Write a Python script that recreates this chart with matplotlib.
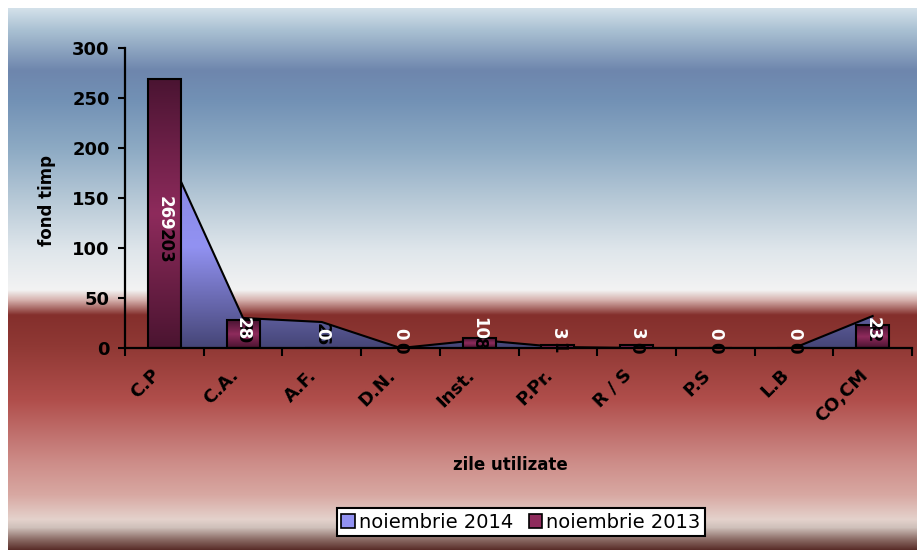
import numpy as np
import matplotlib
matplotlib.use("Agg")
import matplotlib.pyplot as plt
from matplotlib.colors import LinearSegmentedColormap, to_rgb
from matplotlib.patches import Patch
from matplotlib.transforms import ScaledTranslation

categories = ["C.P", "C.A.", "A.F.", "D.N.", "Inst.", "P.Pr.", "R / S", "P.S", "L.B", "CO,CM"]
nov2014 = [203, 30, 26, 0, 8, 1, 0, 0, 0, 32]
nov2013 = [269, 28, 0, 0, 10, 3, 3, 0, 0, 23]
yticks = [0, 50, 100, 150, 200, 250, 300]

plt.rcParams['font.family'] = ['DejaVu Sans']

W, H = 917, 550
fig = plt.figure(figsize=(W / 100, H / 100), dpi=100)
fig.patch.set_facecolor('white')

# ---- background gradient (chart area) ----
bg_stops = [
    (8, '#d3e1ea'), (30, '#a9c0d2'), (70, '#6e86ad'), (100, '#7291b5'),
    (150, '#8eabc4'), (200, '#b7c9d7'), (250, '#dfe6eb'), (290, '#f3f3f3'),
    (300, '#d6b2ae'), (315, '#842f2c'), (345, '#8f3834'), (400, '#b04e4b'),
    (460, '#cc8a86'), (495, '#d8a8a2'), (520, '#e4d2cc'), (528, '#cfc0ba'),
    (540, '#8a6a64'), (550, '#5a2e2a'),
]
ys = np.arange(8, 551)
pos = [p for p, _ in bg_stops]
cols = np.array([to_rgb(c) for _, c in bg_stops])
grad = np.stack([np.interp(ys, pos, cols[:, k]) for k in range(3)], axis=-1)
grad = grad[:, None, :]
bgax = fig.add_axes([8 / W, 0, (W - 8) / W, (H - 8) / H])
bgax.imshow(grad, aspect='auto', extent=[0, 1, 0, 1], interpolation='bilinear')
bgax.set_axis_off()
bgax.set_zorder(-10)

# ---- main axes ----
ax = fig.add_axes([125 / W, (H - 348) / H, 787 / W, 300 / H])
ax.set_facecolor('none')
x = np.arange(len(categories))

# area (noiembrie 2014) with gradient
area_cmap = LinearSegmentedColormap.from_list(
    'area', [(0, '#454576'), (0.5, '#9292f2'), (0.8, '#8a8ae6'), (1.0, '#7676cc')])
poly = ax.fill_between(x, nov2014, 0, facecolor='none', edgecolor='none', zorder=2)
ymax_a = max(nov2014)
g = np.linspace(1, 0, 256)[:, None]
im = ax.imshow(g, cmap=area_cmap, aspect='auto', extent=[x[0], x[-1], 0, ymax_a],
               zorder=2, interpolation='bilinear')
im.set_clip_path(poly.get_paths()[0], transform=ax.transData)
ax.plot(x, nov2014, color='black', lw=1.5, zorder=3)

# bars (noiembrie 2013) with gradient
bar_cmap = LinearSegmentedColormap.from_list(
    'bar', [(0, '#4a1430'), (0.5, '#8e2b5c'), (1.0, '#4a1432')])
bw = 0.42
bars = ax.bar(x, nov2013, width=bw, facecolor='none', edgecolor='black', lw=1.5, zorder=5)
for b, v in zip(bars, nov2013):
    if v <= 0:
        continue
    xb = b.get_x()
    bim = ax.imshow(np.linspace(1, 0, 256)[:, None], cmap=bar_cmap, aspect='auto',
                    extent=[xb, xb + bw, 0, v], zorder=4, interpolation='bilinear')
    bim.set_clip_path(b)
ax.set_xlim(-0.5, len(categories) - 0.5)
ax.set_ylim(0, 300)

# data labels
lab_font = dict(fontsize=12, fontweight='bold', rotation=-90, ha='center')
for xi, v in zip(x, nov2014):
    ax.text(xi, v / 2, str(v), color='black', va='center', zorder=6, **lab_font)
for xi, v in zip(x, nov2013):
    if v > 60:
        ax.text(xi, v / 2, str(v), color='white', va='center', zorder=7, **lab_font)
    else:
        ax.text(xi, 8, str(v), color='white', va='bottom', zorder=7, **lab_font)

# axes styling
for s in ['top', 'right']:
    ax.spines[s].set_visible(False)
for s in ['left', 'bottom']:
    ax.spines[s].set_linewidth(1.6)
    ax.spines[s].set_color('black')
    ax.spines[s].set_zorder(8)

ax.set_yticks(yticks)
ax.set_yticklabels([str(t) for t in yticks], fontsize=13, fontweight='bold')
ax.tick_params(axis='y', direction='out', length=5, width=1.5, pad=6)

ax.set_xticks(np.arange(-0.5, len(categories)), minor=False)
ax.set_xticklabels([])
ax.tick_params(axis='x', which='major', direction='out', length=6, width=1.5)
ax.set_xticks(x, minor=True)
ax.set_xticklabels(categories, minor=True, fontsize=13, fontweight='bold',
                   rotation=45, ha='right', va='top', rotation_mode='anchor')
ax.tick_params(axis='x', which='minor', length=0, pad=13)
shift = ScaledTranslation(-14 / 100, 0, fig.dpi_scale_trans)
for lab in ax.get_xticklabels(minor=True):
    lab.set_transform(lab.get_transform() + shift)

fig.text(47 / W, (H - 200) / H, 'fond timp', rotation=90, ha='center', va='center',
         fontsize=12, fontweight='bold')
fig.text(510 / W, (H - 465) / H, 'zile utilizate', ha='center', va='center',
         fontsize=12, fontweight='bold')

handles = [Patch(facecolor='#9292f2', edgecolor='black', lw=1.2),
           Patch(facecolor='#8e2b5c', edgecolor='black', lw=1.2)]
leg = fig.legend(handles, ['noiembrie 2014', 'noiembrie 2013'], loc='center',
                 bbox_to_anchor=(521 / W, (H - 522) / H), ncol=2, fontsize=14,
                 frameon=True, fancybox=False, handlelength=0.7, handleheight=0.7,
                 handletextpad=0.2, columnspacing=0.8, borderpad=0.25,
                 borderaxespad=0)
leg.get_frame().set_edgecolor('black')
leg.get_frame().set_linewidth(1.5)
leg.get_frame().set_facecolor('white')
leg.get_frame().set_alpha(1)

fig.savefig('out.png', dpi=100)
